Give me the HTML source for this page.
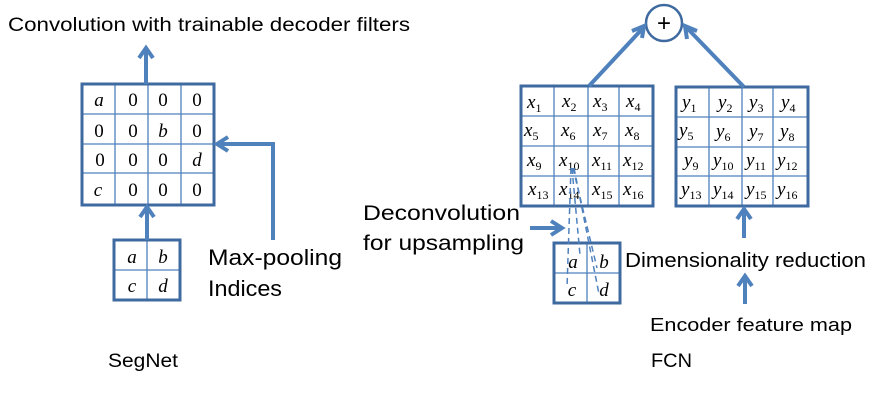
<!DOCTYPE html>
<html><head><meta charset="utf-8"><style>
html,body{margin:0;padding:0;background:#fff;}
svg{display:block;}
.t{font-family:"Liberation Sans",sans-serif;fill:#000;}
.m{font-family:"Liberation Serif",serif;font-style:italic;font-size:19px;fill:#000;}
.n{font-family:"Liberation Serif",serif;font-size:19px;fill:#000;}
.s{font-size:12px;font-style:normal;}
.g{stroke:#4f81bd;stroke-width:1.3;fill:none;}
.b{stroke:#3e6aa0;stroke-width:3;fill:none;}
.a{stroke:#4f81bd;stroke-width:4;fill:none;}
</style></head><body>
<svg width="890" height="408" viewBox="0 0 890 408" xmlns="http://www.w3.org/2000/svg">
<defs><marker id="ah" markerWidth="8" markerHeight="8" refX="6" refY="4" orient="auto" markerUnits="userSpaceOnUse"></marker></defs>
<!-- texts -->
<text class="t" x="8" y="31" font-size="19" textLength="402" lengthAdjust="spacingAndGlyphs">Convolution with trainable decoder filters</text>
<text class="t" x="208" y="265" font-size="22" textLength="134" lengthAdjust="spacingAndGlyphs">Max-pooling</text>
<text class="t" x="208" y="296" font-size="22" textLength="74" lengthAdjust="spacingAndGlyphs">Indices</text>
<text class="t" x="363" y="220" font-size="21" textLength="157" lengthAdjust="spacingAndGlyphs">Deconvolution</text>
<text class="t" x="363" y="250" font-size="21" textLength="161" lengthAdjust="spacingAndGlyphs">for upsampling</text>
<text class="t" x="625" y="267" font-size="20" textLength="241" lengthAdjust="spacingAndGlyphs">Dimensionality reduction</text>
<text class="t" x="650" y="331" font-size="18" textLength="202" lengthAdjust="spacingAndGlyphs">Encoder feature map</text>
<text class="t" x="108" y="367" font-size="19" textLength="70" lengthAdjust="spacingAndGlyphs">SegNet</text>
<text class="t" x="651" y="367" font-size="19" textLength="41" lengthAdjust="spacingAndGlyphs">FCN</text>

<!-- SegNet big grid -->
<path class="g" d="M115 84V205M148 84V205M181 84V205M82 114H214M82 144H214M82 173H214"/>
<rect class="b" x="82" y="84" width="132" height="121"/>
<g text-anchor="middle">
<text class="m" x="99" y="106">a</text><text class="n" x="133" y="106">0</text><text class="n" x="163" y="106">0</text><text class="n" x="197" y="106">0</text>
<text class="n" x="99" y="137">0</text><text class="n" x="133" y="137">0</text><text class="m" x="163" y="137">b</text><text class="n" x="197" y="137">0</text>
<text class="n" x="100" y="166">0</text><text class="n" x="133" y="166">0</text><text class="n" x="163" y="166">0</text><text class="m" x="197" y="166">d</text>
<text class="m" x="98" y="196">c</text><text class="n" x="133" y="196">0</text><text class="n" x="163" y="196">0</text><text class="n" x="197" y="196">0</text>
</g>
<!-- small grid -->
<path class="g" d="M147 240V300M114 270H180"/>
<rect class="b" x="114" y="240" width="66" height="60"/>
<g text-anchor="middle">
<text class="m" x="132" y="263">a</text><text class="m" x="163" y="263">b</text>
<text class="m" x="132" y="292">c</text><text class="m" x="163" y="292">d</text>
</g>
<!-- segnet arrows -->
<path class="a" d="M146 84V48M139 58L146 48L153 58"/>
<path class="a" d="M147 240V207M140 217L147 207L154 217"/>
<path class="a" d="M273 240V144H217M228 137L217 144L228 151"/>

<!-- FCN x grid -->
<path class="g" d="M554 86V206M588 86V206M619 86V206M521 116H653M521 146H653M521 176H653"/>
<rect class="b" x="521" y="86" width="132" height="120"/>
<g class="m" text-anchor="start">
<text x="527" y="108">x<tspan class="s" dy="4">1</tspan></text><text x="562" y="107">x<tspan class="s" dy="4">2</tspan></text><text x="593" y="107">x<tspan class="s" dy="4">3</tspan></text><text x="626" y="107">x<tspan class="s" dy="4">4</tspan></text>
<text x="524" y="136">x<tspan class="s" dy="4">5</tspan></text><text x="561" y="136">x<tspan class="s" dy="4">6</tspan></text><text x="593" y="136">x<tspan class="s" dy="4">7</tspan></text><text x="625" y="136">x<tspan class="s" dy="4">8</tspan></text>
<text x="527" y="166">x<tspan class="s" dy="4">9</tspan></text><text x="559" y="166">x<tspan class="s" dy="4">10</tspan></text><text x="592" y="166">x<tspan class="s" dy="4">11</tspan></text><text x="623" y="166">x<tspan class="s" dy="4">12</tspan></text>
<text x="528" y="195">x<tspan class="s" dy="4">13</tspan></text><text x="559" y="195">x<tspan class="s" dy="4">14</tspan></text><text x="592" y="195">x<tspan class="s" dy="4">15</tspan></text><text x="623" y="195">x<tspan class="s" dy="4">16</tspan></text>
</g>
<!-- FCN y grid -->
<path class="g" d="M709 87V206M742 87V206M773 87V206M676 117H808M676 147H808M676 176H808"/>
<rect class="b" x="676" y="87" width="132" height="119"/>
<g class="m">
<text x="682" y="108">y<tspan class="s" dy="4">1</tspan></text><text x="718" y="108">y<tspan class="s" dy="4">2</tspan></text><text x="749" y="108">y<tspan class="s" dy="4">3</tspan></text><text x="781" y="108">y<tspan class="s" dy="4">4</tspan></text>
<text x="679" y="136">y<tspan class="s" dy="4">5</tspan></text><text x="716" y="137">y<tspan class="s" dy="4">6</tspan></text><text x="749" y="137">y<tspan class="s" dy="4">7</tspan></text><text x="780" y="137">y<tspan class="s" dy="4">8</tspan></text>
<text x="684" y="166">y<tspan class="s" dy="4">9</tspan></text><text x="713" y="166">y<tspan class="s" dy="4">10</tspan></text><text x="746" y="166">y<tspan class="s" dy="4">11</tspan></text><text x="777" y="166">y<tspan class="s" dy="4">12</tspan></text>
<text x="681" y="195">y<tspan class="s" dy="4">13</tspan></text><text x="713" y="195">y<tspan class="s" dy="4">14</tspan></text><text x="746" y="195">y<tspan class="s" dy="4">15</tspan></text><text x="777" y="195">y<tspan class="s" dy="4">16</tspan></text>
</g>
<!-- FCN small grid -->
<path class="g" d="M587 243V303M554 273H620"/>
<rect class="b" x="554" y="243" width="66" height="60"/>
<g text-anchor="middle">
<text class="m" x="573" y="268">a</text><text class="m" x="604" y="268">b</text>
<text class="m" x="572" y="296">c</text><text class="m" x="604" y="296">d</text>
</g>
<!-- dashed lines -->
<g stroke="#4f81bd" stroke-width="1.5" stroke-dasharray="6,4" fill="none">
<path d="M571 168L567 288"/><path d="M572 168L580 255"/><path d="M573 168L597 268"/><path d="M574 168L599 294"/>
</g>
<!-- circle -->
<circle cx="664" cy="23" r="18" fill="#fff" stroke="#3e6aa0" stroke-width="2.5"/>
<text x="664" y="31" text-anchor="middle" font-family="Liberation Sans,sans-serif" font-size="24">+</text>
<!-- FCN arrows -->
<path class="a" d="M589 86L643 28M632 31L644 26L642 38"/>
<path class="a" d="M744 87L687 28M687 39L685 26L697 31"/>
<path class="a" d="M530 228H561M551 221L562 228L551 235"/>
<path class="a" d="M744 238V209M737 219L744 209L751 219"/>
<path class="a" d="M745 304V276M738 286L745 276L752 286"/>
</svg>
</body></html>
